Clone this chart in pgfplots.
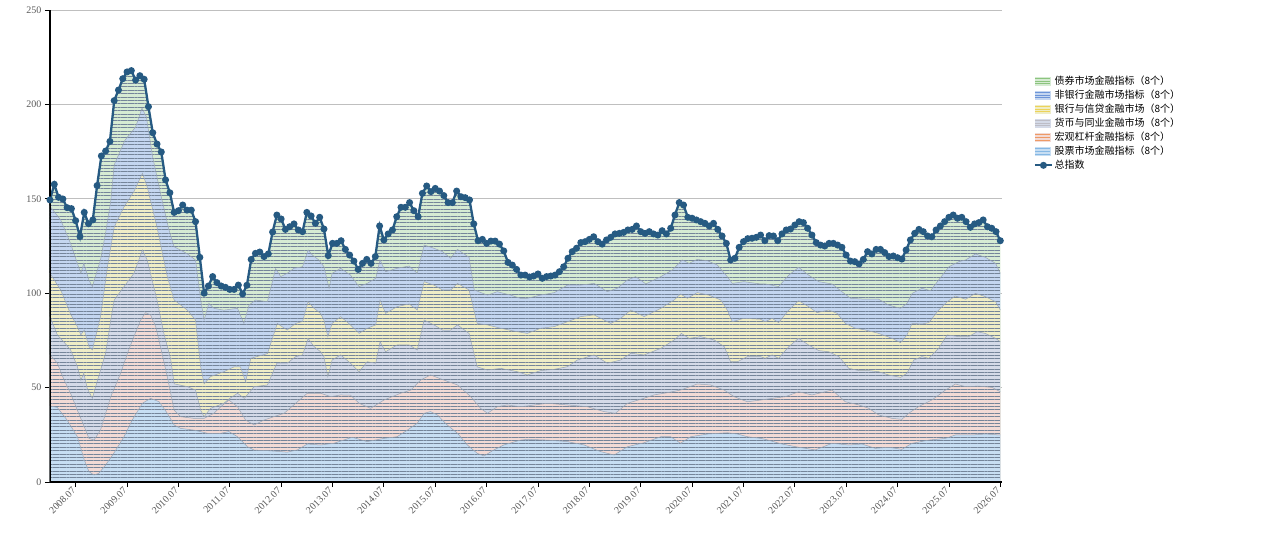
\documentclass[border=0pt]{standalone}
\usepackage{pgfplots}
\pgfplotsset{compat=1.18}
\usepackage{pgfplotstable}
\usetikzlibrary{patterns.meta}
\usepackage{fontspec}
\setmainfont{Liberation Serif}
\newfontfamily\cjk{Noto Sans CJK SC}

\definecolor{cGreen}{HTML}{D6EBD3}
\definecolor{cBlue}{HTML}{C4D6F0}
\definecolor{cYellow}{HTML}{EFEDC6}
\definecolor{cGray}{HTML}{D4DAE8}
\definecolor{cPink}{HTML}{F2DAD5}
\definecolor{cLBlue}{HTML}{C7DEF3}
\definecolor{cLine}{HTML}{9AA6B6}
\definecolor{cStripe}{HTML}{75859A}
\definecolor{cTot}{HTML}{265A82}
\definecolor{lGreen}{HTML}{8CC47E}
\definecolor{lBlue}{HTML}{6D95D8}
\definecolor{lYellow}{HTML}{EDD35A}
\definecolor{lGray}{HTML}{BDBDC6}
\definecolor{lOrange}{HTML}{EE9A66}
\definecolor{lLBlue}{HTML}{86B8E4}

% total index, monthly, m = months since 2008-01
\pgfplotstableread{
m v
0 149.4
1 157.7
2 150.8
3 149.9
4 145.3
5 144.8
6 138.4
7 130
8 142.8
9 136.8
10 138.8
11 157
12 172.7
13 175.3
14 180.4
15 202
16 207.6
17 213.6
18 217.2
19 217.9
20 212.9
21 215.2
22 213.3
23 198.8
24 185
25 179
26 174.8
27 160
28 153.2
29 142.8
30 143.7
31 146.7
32 144
33 144
34 137.9
35 119
36 100
37 103.8
38 108.8
39 105.6
40 103.8
41 103.1
42 102
43 102
44 104.3
45 99.6
46 104.2
47 117.9
48 121.1
49 121.8
50 119.4
51 120.8
52 132.4
53 141.4
54 139.3
55 133.8
56 135.2
57 136.7
58 133.5
59 132.6
60 142.8
61 140.9
62 137
63 140.2
64 134
65 119.9
66 126.4
67 126.4
68 127.8
69 123.2
70 120.2
71 117
72 112.6
73 115.8
74 117.9
75 115.8
76 119.4
77 135.6
78 128.2
79 131.4
80 133.5
81 140.5
82 145.5
83 145.5
84 148
85 143.7
86 140.5
87 152.9
88 156.8
89 153.8
90 155.5
91 154.1
92 151.7
93 148
94 148
95 154.1
96 151.1
97 150.6
98 149.4
99 136.7
100 127.8
101 128.5
102 126.4
103 127.6
104 127.6
105 126
106 122.4
107 116.3
108 114.9
109 112.6
110 109.6
111 109.6
112 108.6
113 109.1
114 110.2
115 107.9
116 108.8
117 109.1
118 109.6
119 111.4
120 114
121 118.5
122 122
123 123.8
124 126.8
125 127.3
126 128.5
127 129.9
128 127.3
129 126
130 128.2
131 129.6
132 131.4
133 131.7
134 132.2
135 133.5
136 133.8
137 135.6
138 132.6
139 131.7
140 132.6
141 131.4
142 130.8
143 133.1
144 131.4
145 134.4
146 141.4
147 148
148 146.7
149 140.2
150 139.7
151 138.8
152 137.9
153 137
154 135.6
155 137
156 133.8
157 130.3
158 126.4
159 117.6
160 118.5
161 124.3
162 127.3
163 128.9
164 129.1
165 129.6
166 130.8
167 127.8
168 130.5
169 130.3
170 127.8
171 131.4
172 133.5
173 134
174 136.1
175 137.9
176 137.4
177 134.4
178 130.8
179 126.8
180 125.5
181 125
182 126.4
183 126.4
184 125.5
185 124.3
186 120.2
187 117
188 116.7
189 115.5
190 117.9
191 122
192 120.8
193 123.2
194 123.2
195 121.5
196 119.4
197 119.7
198 118.8
199 118.1
200 122.9
201 128.2
202 131.7
203 133.8
204 132.6
205 130.3
206 129.9
207 133.5
208 135.6
209 137.9
210 140.2
211 141.4
212 139.7
213 140.2
214 137.9
215 134.9
216 136.7
217 137.4
218 138.8
219 135.2
220 134.4
221 132.6
222 127.8
}\totaltab

% cumulative top of each layer (stock, macro, money, bank, non-bank)
\pgfplotstableread{
m v
0 40.3
1.7 39.5
4.0 32.8
6.4 24
8.0 11.7
9.1 5.5
10.3 3.7
11.4 4.6
13 9
14.9 15.2
17.3 24
19.2 32.8
21.6 41.7
23.5 44.3
25.5 42.5
27.4 36.4
29 30.2
30.5 28.4
33.6 27.5
36.8 25.8
39.9 25.8
41.8 26.7
43.8 24
46.1 18.7
47.7 16.9
50.8 16.6
53.9 16.1
55.4 15.8
57.8 17
60.1 20.1
63.2 19.6
66.3 20.5
70.6 23.7
74.1 21.4
78 23.1
81.1 24
83.5 27.5
85.8 31.1
87.4 36.4
88.9 37.3
90.5 35.5
92.8 30.2
95.2 25.8
97.5 19.6
99.8 15.2
101.4 13.8
103.7 17
106 19.6
109.9 22.2
111.5 22.6
116.2 22.2
120.9 21.4
124.8 19.6
128.6 16.1
131.8 14.3
134.9 18.7
138.8 20.8
142.7 24
145 24
147.3 20.5
149.7 24
153.6 25.4
158.2 26.1
160.6 25.4
162.9 24
166 23.1
167.1 22.6
171 20.1
174.9 18.4
178.8 17
182.7 20.5
186.6 19.6
189.7 20.1
192.8 17.8
195.9 18.4
199 17.3
201.4 20.5
205.3 22.2
209.2 23.1
211.5 24.9
215.4 24.9
218.5 25.4
222 24.9
}\bone

\pgfplotstableread{
m v
0 67.5
1.7 63
3.3 54
4.8 47
6.4 38
8.0 29.3
9.1 23.1
10.3 22.2
11.8 27.5
13 36.4
14.2 45.2
16.5 57.6
18.1 68.2
19.6 77
21.2 85.8
22.3 89.7
23.5 88.5
24.7 82.3
25.8 71.7
27.4 55.8
29 38.1
30.5 34.6
33.6 33.7
36 33.7
38.3 36.4
39.9 39.9
41.8 43.4
43.8 39.9
45.7 32.8
47.7 30.2
50 32.8
52.3 34.6
54.7 36.4
57.4 41.7
60.1 47
63.2 47
65.6 45.2
67.9 46.1
70.2 46
72.2 41.7
74.9 39
78 43.4
81.9 47
84.3 48.7
86.6 54
88.9 56.7
92 54
95.2 51.4
98.3 45.2
100.6 39
102.2 36.4
104.5 39.9
106.8 40.8
109.9 39.9
111.5 40.3
116.2 41.7
120.9 40.8
125.5 39.9
129.4 37.3
132.1 36.4
134.9 41.7
138 43.8
141.1 46.1
144.2 47.3
147.3 48.7
151.2 51.9
154.3 51.4
157.5 48.7
159.8 45.2
162.9 42.5
166 43.4
167.1 43.8
171.8 45.2
174.9 47.8
178 46.1
182.7 48.7
185.8 42.5
189 40.8
191.3 39
193.6 35.5
196.7 33.7
199 33.2
200.6 36.4
202.9 39.9
206 43.4
209.2 48.7
211.5 51.9
213.9 50.5
217 50.8
220.1 50.1
222 47.8
}\btwo

\pgfplotstableread{
m v
0 87.6
1.7 78
3.3 74
4.8 70
6.4 61.1
7.2 54
7.9 57.6
8.7 49.6
9.9 44.3
11.1 54
13 68.2
14.2 85.8
15 96.4
17.3 103.5
19.6 110.5
21.6 122.9
22.7 117.6
25 96.4
26.6 78.7
28.2 65
29 52
32.1 50.5
34 48.7
35.2 38
36 34.6
37.5 39
40.6 41.7
42 44.3
43.8 47
45.4 44.3
47.7 50.5
50.8 51.4
53 62.9
55.4 62.9
57.4 66.4
59 67.3
60.3 76
61.7 71.7
63.2 69
64 66.4
64.9 55.8
65.9 64.6
67.9 67.3
70.2 62.9
72.2 58.4
74.1 63.7
76.1 62.9
77.1 74.3
78.4 69
81.1 72.6
83.9 72.6
85.8 69.9
87.4 85.8
89.7 83.2
91.7 80.5
93.6 80.5
95.2 83.2
97.9 78.7
99.8 61
102.2 59.3
105.3 60.2
109.2 58.4
111.5 56.7
114.6 59
117.8 59.7
120.9 61.1
123.2 64.6
127.1 67.3
130.2 62.9
133.3 64.6
135.7 68.2
138.8 67.3
142.7 70.8
145.8 75.2
147.5 78.7
149.3 76.1
152 77
155.2 75.2
157.5 71.7
159 63.7
160.6 63.7
162.9 66.4
166 66.4
167.1 65.5
168.7 67.3
170.2 65.5
172.6 71.7
174.9 76.1
177.2 72.6
179.6 69.6
181.9 69
184.3 66.4
186.6 60.2
189 59
191.3 59
193.6 58.4
195.9 56.7
198.7 55.4
200.2 57.6
201.8 64.6
203.7 66.4
205.3 65.5
207.6 70.8
209.6 77.9
212.3 77
214.6 77
216.6 79.6
218.5 78.7
220.9 76.1
222 74.3
}\bthree

\pgfplotstableread{
m v
0 110.5
2.5 101.7
4.8 89
6.4 82.3
7.2 77.9
8 80.5
9.1 71.7
9.9 70
11.8 87.6
13.5 115
15 135
17.3 145.8
19.6 153.8
21.6 163.5
22.7 156.4
25 135
27.4 108.8
29 96.4
32.1 91
34 85.8
35.2 61
36 52
37.5 55.8
40.6 58.4
43 61
44.5 61
45.7 53
46.9 65.5
50.8 68
53.1 84
55.4 80.5
57.4 84
59 85
60.3 95.5
61.7 92
63.2 89.3
64 85.8
64.9 77
65.9 84
67.9 87.6
70.2 83.2
72.2 78.7
74.1 81.4
76.1 83.2
77.1 96.4
78.4 89.3
81.1 92.9
83.9 94.3
85.8 91.1
87.4 106.1
89.7 104.3
91.7 101.7
93.6 101.7
95.2 105.2
97.9 101.7
99.8 84
102.2 83.2
105.3 81.4
109.2 79.6
111.5 78.7
114.6 81.4
117.8 82.3
120.9 84.9
124 87.6
127.1 88.5
131 84
133.3 86.7
135.7 91.1
138.8 87.6
142.7 92
145.8 96.4
147.3 99.6
148.9 97.3
151.2 100.3
153.9 99
156.7 96.4
158.2 91.1
159.4 84.9
162.1 86.7
166 86.2
167.1 84.9
168.7 86.7
170.2 84.4
172.6 91.1
174.9 96
177.2 92.9
179.2 89.7
181.9 91.1
183.9 89.3
185.8 84
188.2 81.4
190.5 80.5
193.6 78.7
196.7 76.1
198.7 73.8
200.2 77.9
201.4 84
203.7 83.7
205.3 84.4
207.6 91.1
209.6 95.5
211.5 98.5
213.9 96.8
216.2 99.9
218.5 98.2
220.9 95.5
222 91.1
}\bfour

\pgfplotstableread{
m v
0 146
2.5 138.8
4.8 126.4
7.2 110.5
7.9 115.8
9.1 107
9.9 103.5
11.8 117.6
13 132
14.2 149
15 168
17.5 181
20 188
21.5 198
22.5 193.5
24 172
26 151
27.8 133.5
29 124.6
32 121
34 117.6
35.2 96.4
36 85.8
37.1 94.6
38.3 92
40.6 91
43.8 92
45.3 84
46.5 93.7
48 96.4
50.8 95.5
52.7 113
53.9 108.8
55.4 110.5
57 113.2
59 114
60.3 122.9
61.3 120.2
62.8 117.6
64 114
65.2 102.6
65.9 110.5
67.9 113.2
70.2 109.6
72.2 103.5
74.1 105.2
76.1 107.9
77.1 117.6
78.4 111.4
81.1 113.2
83.9 114.4
85.8 110.5
87.4 125.5
89.7 123.8
91.7 122
93.6 118.5
95.2 123.2
97.9 119
99.1 101.7
102.2 99
104.5 100.8
107.6 99
109.9 97.3
111.5 97.3
114.6 99
117.8 100.3
120.9 104.3
124 104.3
127.1 105.2
130.2 100.8
132.5 102.6
134.9 107
136.8 108.8
139.2 104.9
142.7 108.8
145.4 112.3
147.7 117.6
149.3 115.8
151.2 117.9
153.6 117.2
155.9 114.9
158.2 108.8
159.4 105.2
162.1 106.1
166 104.9
167.1 104.9
170.2 103.5
172.6 109.6
174.9 113.7
177.2 109.6
179.6 106.1
182.7 104.9
185 100.8
187 97.3
190.5 96.8
193.6 96.8
195.9 93.7
198.7 92
200.2 94.6
201.4 99.9
203.7 102.6
205.7 101.3
207.6 107
210 114
212.3 116.7
213.9 117.6
216.2 120.8
218.5 119
220.9 115.8
222 110.5
}\bfive

\newcommand{\legpatch}[2]{\addlegendimage{legend image code/.code={%
  \fill[#1] (0pt,-4pt) rectangle (15pt,4pt);
  \draw[#2, line width=0.9pt] (0pt,-2.7pt)--(15pt,-2.7pt) (0pt,0pt)--(15pt,0pt) (0pt,2.7pt)--(15pt,2.7pt);}}}

\begin{document}
\begin{tikzpicture}
\useasboundingbox (0,0) rectangle (1268pt,539pt);
\begin{axis}[
  at={(50pt,57pt)}, anchor=south west,
  scale only axis, width=952pt, height=472pt,
  xmin=0, xmax=222.4, ymin=0, ymax=250,
  axis x line=bottom, axis y line=left,
  axis line style={-, black, line width=1.2pt},
  ytick={0,50,100,150,200,250},
  ymajorgrids, grid style={draw=black!25, line width=0.8pt},
  xtick={6,18,...,222},
  xticklabels={2008.07,2009.07,2010.07,2011.07,2012.07,2013.07,2014.07,2015.07,2016.07,2017.07,2018.07,2019.07,2020.07,2021.07,2022.07,2023.07,2024.07,2025.07,2026.07},
  tick align=outside, major tick length=5pt,
  tick style={black, line width=0.8pt},
  y tick label style={font=\fontsize{10}{11}\selectfont, text=black!65},
  x tick label style={font=\fontsize{10}{11}\selectfont, text=black!65, rotate=45, anchor=east, inner sep=2.5pt},
  /pgf/number format/assume math mode=true,
  legend style={at={(1.03,0.868)}, anchor=north west, draw=none, fill=none,
    font=\cjk\fontsize{10}{11}\selectfont, row sep=1pt,
    nodes={inner sep=1.5pt}},
  legend cell align=left,
]
\addplot[fill=cGreen, draw=none, forget plot] table {\totaltab} \closedcycle;
\addplot[fill=cBlue, draw=none, forget plot] table {\bfive} \closedcycle;
\addplot[fill=cYellow, draw=none, forget plot] table {\bfour} \closedcycle;
\addplot[fill=cGray, draw=none, forget plot] table {\bthree} \closedcycle;
\addplot[fill=cPink, draw=none, forget plot] table {\btwo} \closedcycle;
\addplot[fill=cLBlue, draw=none, forget plot] table {\bone} \closedcycle;
\addplot[draw=none, forget plot, pattern={Lines[angle=0,distance=3.4pt,line width=0.8pt]}, pattern color=cStripe, fill opacity=0.28] table {\totaltab} \closedcycle;
\addplot[cLine, line width=0.5pt, forget plot] table {\bone};
\addplot[cLine, line width=0.5pt, forget plot] table {\btwo};
\addplot[cLine, line width=0.5pt, forget plot] table {\bthree};
\addplot[cLine, line width=0.5pt, forget plot] table {\bfour};
\addplot[cLine, line width=0.5pt, forget plot] table {\bfive};
\addplot[cTot, line width=2.3pt, mark=*, mark size=2.3pt, forget plot] table {\totaltab};
\draw[black, line width=1.2pt] (rel axis cs:0,1) -- (rel axis cs:0,0) -- (rel axis cs:1,0);
\legpatch{cGreen}{lGreen}
\addlegendentry{债券市场金融指标（8个）}
\legpatch{cBlue}{lBlue}
\addlegendentry{非银行金融市场指标（8个）}
\legpatch{cYellow}{lYellow}
\addlegendentry{银行与信贷金融市场（8个）}
\legpatch{cGray}{lGray}
\addlegendentry{货币与同业金融市场（8个）}
\legpatch{cPink}{lOrange}
\addlegendentry{宏观杠杆金融指标（8个）}
\legpatch{cLBlue}{lLBlue}
\addlegendentry{股票市场金融指标（8个）}
\addlegendimage{cTot, line width=2.3pt, mark=*, mark size=2.3pt}
\addlegendentry{总指数}
\end{axis}
\end{tikzpicture}
\end{document}
